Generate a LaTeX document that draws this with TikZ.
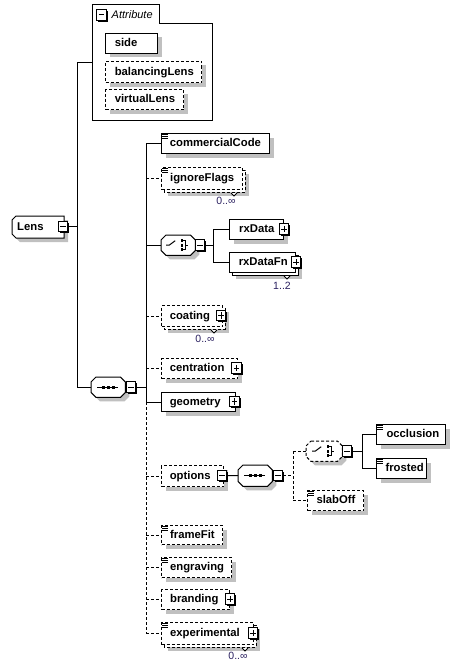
\documentclass[tikz,border=0pt]{standalone}
\usepackage{fontspec}
\setmainfont{Liberation Sans}
\usetikzlibrary{shadows}
\pgfdeclarelayer{bg}
\pgfsetlayers{bg,main}
\definecolor{shadowc}{HTML}{C0C0C0}
\definecolor{multc}{HTML}{2A2060}
\newcommand\elfont{\fontsize{11.3}{13}\selectfont\bfseries}
\tikzset{
  sh/.style={drop shadow={shadow xshift=4pt,shadow yshift=-4pt,fill=shadowc,opacity=1}},
  ebox/.style={draw=black,fill=white,line width=1pt,inner sep=0pt,anchor=north west,font=\elfont,text height=8.5pt,text depth=2pt},
  opt/.style={dash pattern=on 3pt off 2pt},
  conn/.style={draw=black,line width=1pt},
  comp/.style={minimum width=34pt,minimum height=20pt,inner sep=0pt,anchor=north west},
  octo/.style={draw=black,fill=white,line width=1pt,sh},
  pmbase/.style={draw=black,fill=white,line width=1pt,minimum width=9.5pt,minimum height=10.5pt,inner sep=0pt,
    drop shadow={shadow xshift=1.3pt,shadow yshift=-1.3pt,fill=black,opacity=1}},
  minusbox/.style={pmbase,path picture={\draw[line width=1pt] ([xshift=2.2pt]path picture bounding box.west) -- ([xshift=-2.2pt]path picture bounding box.east);}},
  plusbox/.style={pmbase,path picture={\draw[line width=1pt] ([xshift=2.2pt]path picture bounding box.west) -- ([xshift=-2.2pt]path picture bounding box.east) ([yshift=-2.2pt]path picture bounding box.north) -- ([yshift=2.2pt]path picture bounding box.south);}},
  mult/.style={font=\fontsize{10.5}{12}\selectfont,text=multc,inner sep=0pt},
}
\newcommand\elem[8][]{\node[ebox,sh,#1,minimum width=#5pt,minimum height=#6pt] (#2) at (#3,#4) {\makebox[#5pt][l]{\hspace*{#7pt}#8}};}
\newcommand\elemm[8][]{%
  \draw[sh,fill=white,line width=1pt,#1] (#3+3,#4+3) rectangle ++(#5,#6);
  \node[ebox,#1,minimum width=#5pt,minimum height=#6pt] (#2) at (#3,#4) {\makebox[#5pt][l]{\hspace*{#7pt}#8}};
  \draw[fill=white,line width=0.8pt] ([shift={(-12,3)}]#2.south east) -- ([shift={(-9,6)}]#2.south east) -- ([shift={(-6,3)}]#2.south east);}
\newcommand\simp[1]{\draw[line width=0.9pt] \foreach \d in {1.5,3.7,5.9} {([shift={(1,\d)}]#1.north west) -- ++(5.5,0)};}
\newcommand\octagon[2][]{\draw[octo,#1] ([shift={(5,0)}]#2.north west) -- ([shift={(-5,0)}]#2.north east) -- ([shift={(0,5)}]#2.north east) -- ([shift={(0,-5)}]#2.south east) -- ([shift={(-5,0)}]#2.south east) -- ([shift={(5,0)}]#2.south west) -- ([shift={(0,-5)}]#2.south west) -- ([shift={(0,5)}]#2.north west) -- cycle;}
\newcommand\seqsym[1]{\draw[line width=1pt] ([shift={(-11,0)}]#1.center) -- ([shift={(10,0)}]#1.center);
  \foreach \d in {-5,0,5} {\fill ([shift={(\d-1.5,-1.5)}]#1.center) rectangle ([shift={(\d+1.5,1.5)}]#1.center);}}
\newcommand\chsym[1]{\draw[line width=1pt] ([shift={(-12,0)}]#1.center) -- ([shift={(-9,0)}]#1.center) -- ([shift={(-3,-4.5)}]#1.center);
  \foreach \d in {-4.5,0,4.5} {\fill ([shift={(2.5,\d-1.3)}]#1.center) rectangle ([shift={(5,\d+1.3)}]#1.center);}
  \draw[line width=1pt] ([shift={(5,-4.5)}]#1.center) -- ([shift={(7,-4.5)}]#1.center) -- ([shift={(7,4.5)}]#1.center) -- ([shift={(5,4.5)}]#1.center) ([shift={(7,0)}]#1.center) -- ([shift={(10,0)}]#1.center);}
\begin{document}
\begin{tikzpicture}[x=1pt,y=-1pt]
\useasboundingbox (0,0) rectangle (459,669);
\begin{pgfonlayer}{bg}
\fill[white] (0,0) rectangle (459,669);
\end{pgfonlayer}

% Attribute group
\node[inner sep=0pt,minimum width=120pt,minimum height=96pt,anchor=north west] (attr) at (92,24) {};
\draw[line width=1pt] (attr.south west) -- ([shift={(0,-19)}]attr.north west) -- ([shift={(67,-19)}]attr.north west) -- ([shift={(67,0)}]attr.north west) -- (attr.north east) -- (attr.south east) -- cycle;
\coordinate (attrin) at (92,63);
\node[minusbox] (attrm) at (101.5,15) {};
\node[anchor=base west,inner sep=0pt,font=\fontsize{11}{13}\selectfont\itshape] (attrlbl) at (111.5,19) {Attribute};
\elem{side}{105}{33}{52}{20}{9.3}{side}
\elem[opt]{bal}{105}{61}{96}{21}{9.3}{balancingLens}
\elem[opt]{virt}{105}{89}{78}{20}{9.3}{virtualLens}

% Lens
\node[ebox,draw=none,fill=none,minimum width=51pt,minimum height=21pt] (lens) at (12,216) {\makebox[51pt][l]{\hspace*{4.7pt}Lens}};
\begin{pgfonlayer}{bg}
\draw[octo] ([shift={(4,0)}]lens.north west) -- (lens.north east) -- (lens.south east) -- ([shift={(4,0)}]lens.south west) -- ([shift={(0,-4)}]lens.south west) -- ([shift={(0,4)}]lens.north west) -- cycle;
\end{pgfonlayer}
\node[minusbox] (lensm) at (63,226.5) {};

% sequence 1
\node[comp] (seq1) at (91,377) {};
\octagon{seq1}
\seqsym{seq1}
\node[minusbox] (seq1m) at (131,387) {};

% children of sequence 1
\elem{cc}{161}{133}{108}{20}{8.4}{commercialCode}
\simp{cc}
\elemm[opt]{ign}{161}{167}{81}{22}{8.7}{ignoreFlags}
\simp{ign}
\node[mult] (ignm) at (226,201) {0..∞};

\node[comp] (ch1) at (161,235) {};
\octagon{ch1}
\chsym{ch1}
\node[minusbox] (ch1m) at (200,245) {};
\elem{rxd}{229}{219}{54}{20}{9.7}{rxData}
\node[plusbox] (rxdp) at (284,229) {};
\elemm{rxf}{229}{252}{66}{20}{9.3}{rxDataFn}
\node[plusbox] (rxfp) at (296,262) {};
\node[mult] (rxfm) at (282,286) {1..2};

\elemm[opt]{coat}{161}{305}{61}{21}{8.3}{coating}
\node[plusbox] (coatp) at (221,315.5) {};
\node[mult] (coatm) at (205,339) {0..∞};
\elem[opt]{cent}{161}{358}{76}{20}{8.3}{centration}
\node[plusbox] (centp) at (236.5,368) {};
\elem{geo}{161}{392}{74}{19}{8.3}{geometry}
\node[plusbox] (geop) at (234.5,401.5) {};

\elem[opt]{opts}{161}{465}{62}{21}{8.3}{options}
\node[minusbox] (optsm) at (222,475.5) {};
\node[comp,minimum height=21pt] (seq2) at (238,465) {};
\octagon{seq2}
\seqsym{seq2}
\node[minusbox] (seq2m) at (278,475.5) {};
\node[comp,minimum width=36pt] (ch2) at (306,441) {};
\octagon[opt]{ch2}
\chsym{ch2}
\node[minusbox] (ch2m) at (347,451) {};
\elem{occ}{376}{424}{69}{20}{10}{occlusion}
\simp{occ}
\elem{fro}{376}{458}{50}{20}{9}{frosted}
\simp{fro}
\elem[opt]{slab}{307}{490}{56}{20}{9}{slabOff}
\simp{slab}

\elem[opt]{ff}{161}{525}{61}{19}{8.6}{frameFit}
\simp{ff}
\elem[opt]{eng}{161}{557}{70}{20}{8.6}{engraving}
\simp{eng}
\elem[opt]{brand}{161}{589}{68}{20}{8.6}{branding}
\node[plusbox] (brandp) at (230,599) {};
\elemm[opt]{exp}{161}{622}{92}{22}{8.6}{experimental}
\simp{exp}
\node[plusbox] (expp) at (253,633) {};
\node[mult] (expm) at (238,656) {0..∞};

% connectors
\coordinate (sL) at (77,0);
\coordinate (sM) at (146,0);
\coordinate (c1) at (213,0);
\coordinate (c2) at (293,0);
\coordinate (c3) at (362,0);
\draw[conn] (attrin -| sL) -- (seq1.west -| sL);
\draw[conn] (attrin -| sL) -- (attrin);
\draw[conn] (lensm.east) -- (lensm.east -| sL);
\draw[conn] (seq1.west -| sL) -- (seq1.west);
\draw[conn] (seq1m.east) -- (seq1m.east -| sM);
\draw[conn] (cc.west -| sM) -- (geo.west -| sM);
\draw[conn,opt] (geo.west -| sM) -- (exp.west -| sM);
\draw[conn] (cc.west -| sM) -- (cc.west);
\draw[conn,opt] (ign.west -| sM) -- (ign.west);
\draw[conn] (ch1.west -| sM) -- (ch1.west);
\draw[conn,opt] (coat.west -| sM) -- (coat.west);
\draw[conn,opt] (cent.west -| sM) -- (cent.west);
\draw[conn] (geo.west -| sM) -- (geo.west);
\draw[conn,opt] (opts.west -| sM) -- (opts.west);
\draw[conn,opt] (ff.west -| sM) -- (ff.west);
\draw[conn,opt] (eng.west -| sM) -- (eng.west);
\draw[conn,opt] (brand.west -| sM) -- (brand.west);
\draw[conn,opt] (exp.west -| sM) -- (exp.west);
\draw[conn] (ch1m.east) -- (ch1m.east -| c1);
\draw[conn] (rxd.west -| c1) -- (rxf.west -| c1);
\draw[conn] (rxd.west -| c1) -- (rxd.west);
\draw[conn] (rxf.west -| c1) -- (rxf.west);
\draw[conn] (optsm.east) -- (seq2.west);
\draw[conn,opt] (seq2m.east) -- (seq2m.east -| c2);
\draw[conn,opt] (ch2.west -| c2) -- (slab.west -| c2);
\draw[conn,opt] (ch2.west -| c2) -- (ch2.west);
\draw[conn,opt] (slab.west -| c2) -- (slab.west);
\draw[conn] (ch2m.east) -- (ch2m.east -| c3);
\draw[conn] (occ.west -| c3) -- (fro.west -| c3);
\draw[conn] (occ.west -| c3) -- (occ.west);
\draw[conn] (fro.west -| c3) -- (fro.west);
\end{tikzpicture}
\end{document}
